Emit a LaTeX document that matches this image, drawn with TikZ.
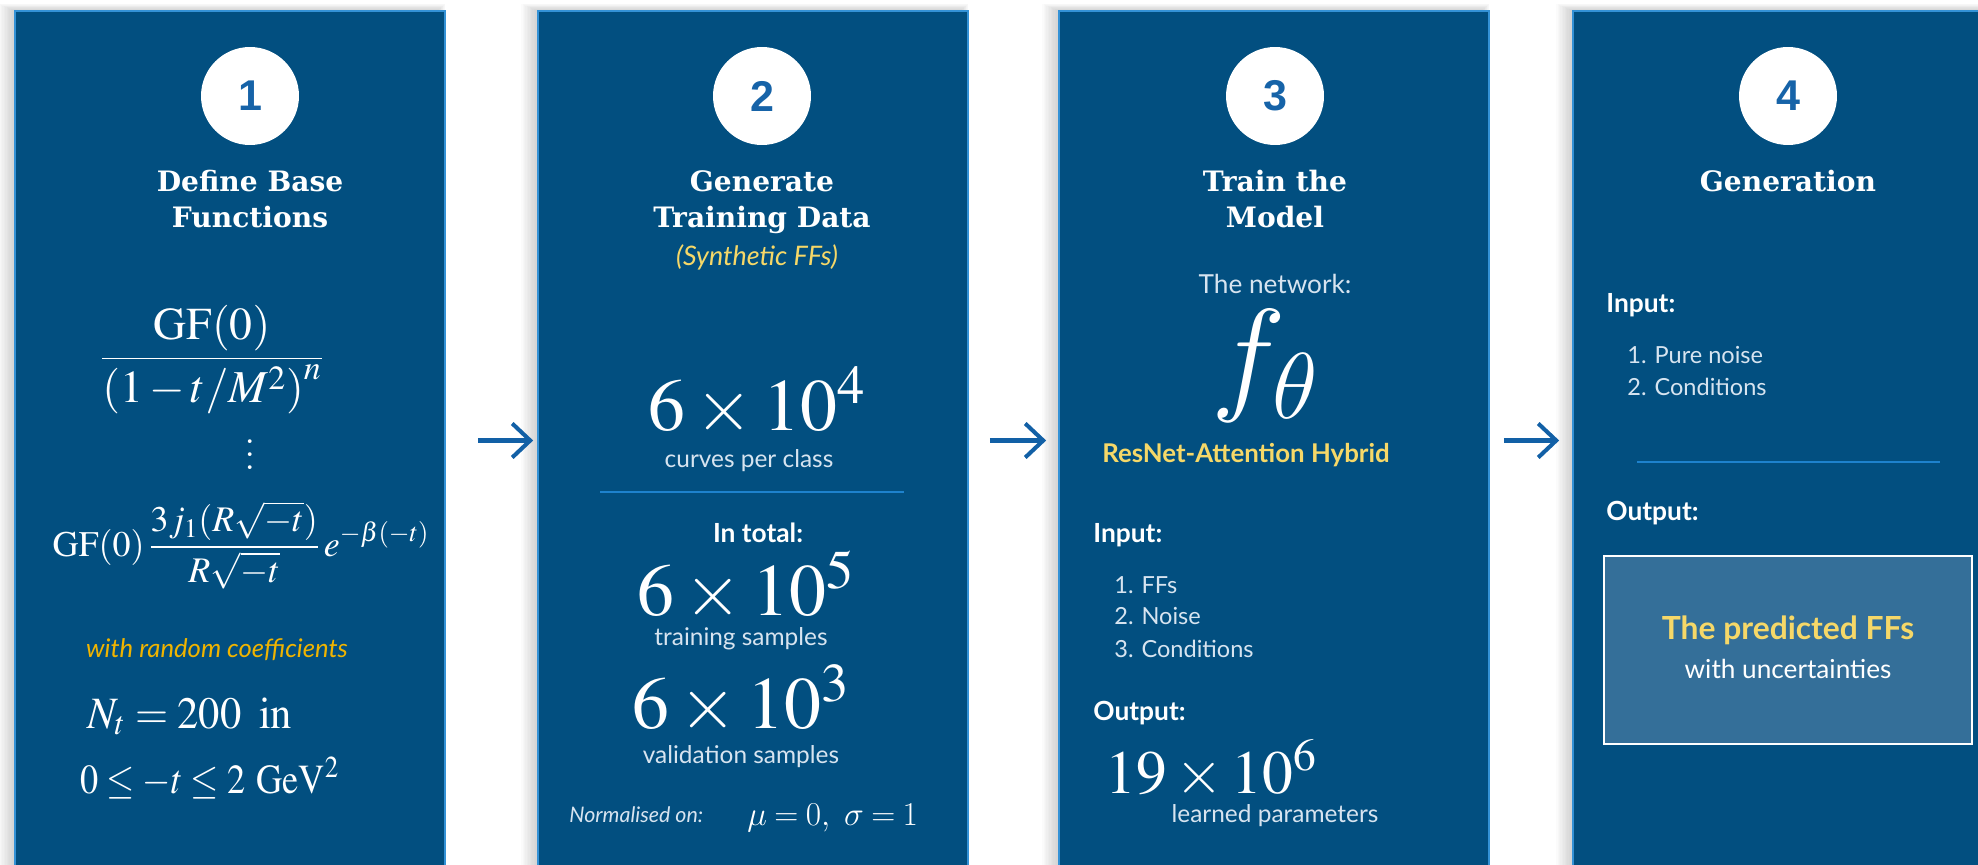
\documentclass[tikz,border=0pt]{standalone}
\usepackage{fix-cm}
\usepackage{mathptmx}
\usepackage[no-math]{fontspec}
\newfontfamily\lato{Lato}
\newfontfamily\serifhead{DejaVu Serif}
\newfontfamily\numsans{Liberation Sans}
\usetikzlibrary{arrows.meta}

% Computer Modern symbols for f_theta and the normalisation line
\DeclareSymbolFont{cmletters}{OML}{cmm}{m}{it}
\DeclareSymbolFont{cmroman}{OT1}{cmr}{m}{n}
\DeclareMathSymbol{\cmf}{\mathord}{cmletters}{`f}
\DeclareMathSymbol{\cmtheta}{\mathord}{cmletters}{"12}
\DeclareMathSymbol{\cmmu}{\mathord}{cmletters}{"16}
\DeclareMathSymbol{\cmsigma}{\mathord}{cmletters}{"1B}
\DeclareMathSymbol{\cmcomma}{\mathpunct}{cmletters}{"3B}
\DeclareMathSymbol{\cmeq}{\mathrel}{cmroman}{`=}
\DeclareMathSymbol{\cmzero}{\mathord}{cmroman}{`0}
\DeclareMathSymbol{\cmone}{\mathord}{cmroman}{`1}

\definecolor{panelblue}{RGB}{2,79,128}
\definecolor{paneledge}{RGB}{52,146,214}
\definecolor{numblue}{RGB}{22,99,168}
\definecolor{arrowblue}{RGB}{18,96,166}
\definecolor{rulecyan}{RGB}{30,130,205}
\definecolor{coefgold}{RGB}{240,180,0}
\definecolor{paleyellow}{RGB}{246,216,104}
\definecolor{softwhite}{RGB}{215,228,240}
\definecolor{boxblue}{RGB}{52,111,153}

\begin{document}
\begin{tikzpicture}[
  x=0.02cm,y=-0.02cm,
  panel/.style={draw=paneledge, fill=panelblue, line width=1pt, minimum width=8.6cm, minimum height=17.18cm, inner sep=0pt},
  numcirc/.style={circle, fill=white, minimum size=1.96cm, inner sep=0pt, text=numblue, font=\numsans\bfseries\fontsize{24.5}{24.5}\selectfont},
  steptitle/.style={anchor=base, inner sep=0pt, text=white, font=\serifhead\bfseries\fontsize{16}{16}\selectfont},
  note/.style={anchor=base, inner sep=0pt, text=softwhite, font=\lato\fontsize{13.9}{16}\selectfont},
  head/.style={anchor=base west, inner sep=0pt, text=white, font=\lato\bfseries\fontsize{15}{17}\selectfont},
  listitem/.style={anchor=base west, inner sep=0pt, text=softwhite, font=\lato\fontsize{13.4}{15}\selectfont},
  bignum/.style={anchor=base, inner sep=0pt, text=white, font=\fontsize{42}{42}\selectfont},
  formula/.style={anchor=base, inner sep=0pt, text=white},
  divider/.style={draw=rulecyan, line width=0.8pt},
  flowarrow/.style={draw=arrowblue, line width=2.3pt, -{Straight Barb[length=0.36cm, width=0.68cm]}}
]
\useasboundingbox (0,0) rectangle (1978,865);
\clip (0,0) rectangle (1978,865);

% Soft shadows on the left of the panels
\foreach \cx in {230,753,1274,1788}
  \foreach \k in {1,...,12}
    \fill[black, opacity=0.016] (\cx-215-1.4*\k,11-0.6*\k) rectangle (\cx+207+0.7*\k,880);

% Panels
\node[panel] (p1) at (230,440.5) {};
\node[panel] (p2) at (753,440.5) {};
\node[panel] (p3) at (1274,440.5) {};
\node[panel] (p4) at (1788,440.5) {};

% Flow arrows
\draw[flowarrow, shorten <=0.64cm, shorten >=0.08cm] (p1.east) -- (p2.west);
\draw[flowarrow, shorten <=0.42cm, shorten >=0.24cm] (p2.east) -- (p3.west);
\draw[flowarrow, shorten <=0.28cm, shorten >=0.26cm] (p3.east) -- (p4.west);

% Step numbers
\node[numcirc] (c1) at (250,96) {1};
\node[numcirc] (c2) at (762,96) {2};
\node[numcirc] (c3) at (1275,96) {3};
\node[numcirc] (c4) at (1788,96) {4};

% Step titles
\node[steptitle] (t1a) at (250,192) {Define Base};
\node[steptitle] (t1b) at (250,227) {Functions};
\node[steptitle] (t2a) at (762,192) {Generate};
\node[steptitle] (t2b) at (762,227) {Training Data};
\node[steptitle] (t3a) at (1275,192) {Train the};
\node[steptitle] (t3b) at (1275,227) {Model};
\node[steptitle] (t4a) at (1788,192) {Generation};

% Panel 1: base functions
\node[formula, font=\fontsize{26}{26}\selectfont] (f1a) at (212,370)
  {$\displaystyle\frac{\mathrm{GF}(0)}{\left(\rule[-0.3em]{0pt}{1.0em}1-t/M^2\right)^n}$};
\node[formula, anchor=center, align=center, font=\fontsize{26}{7.4}\selectfont] (f1dots) at (250,455) {.\\.\\.};
\node[formula, font=\fontsize{20.5}{20.5}\selectfont] (f1b) at (241,556)
  {$\displaystyle\mathrm{GF}(0)\,\frac{3j_1(R\sqrt{-t})}{R\sqrt{-t}}\,e^{-\beta(-t)}$};
\node[note, text=coefgold, font=\lato\itshape\fontsize{14.6}{16}\selectfont] (coef) at (217,657) {with random coefficients};
\node[formula, anchor=base west, font=\fontsize{25.5}{25.5}\selectfont] (nt) at (87,728)
  {\scalebox{0.95}[1]{$N_t = 200\ \,\mathrm{in}$}};
\node[formula, anchor=base west, font=\fontsize{23.5}{23.5}\selectfont] (trange) at (80,793)
  {\scalebox{0.88}[1]{$0 \le -t \le 2~\mathrm{GeV}^2$}};

% Panel 2: training data
\node[note, text=paleyellow, font=\lato\itshape\fontsize{15.3}{17}\selectfont] (synth) at (757,265) {(Synthetic FFs)};
\node[bignum] (n2a) at (757,430) {$6\times10^4$};
\node[note] (l2a) at (749,467) {curves per class};
\draw[divider] (600,492) -- (904,492);
\node[head, anchor=base] (h2) at (758,542) {In total:};
\node[bignum] (n2b) at (746,615) {$6\times10^5$};
\node[note] (l2b) at (741,645) {training samples};
\node[bignum] (n2c) at (741,728) {$6\times10^3$};
\node[note] (l2c) at (741,763) {validation samples};
\node[note, anchor=base west, font=\lato\itshape\fontsize{12.2}{14}\selectfont] (norm) at (569,822) {Normalised on:};
\node[formula, anchor=base west, font=\fontsize{19}{19}\selectfont] (musig) at (747,825)
  {$\cmmu \cmeq \cmzero\cmcomma\ \cmsigma \cmeq \cmone$};

% Panel 3: the model
\node[note, font=\lato\fontsize{14.9}{17}\selectfont] (net) at (1275,293) {The network:};
\node[formula, font=\fontsize{72}{72}\selectfont] (fth) at (1265,397) {$\cmf_{\cmtheta}$};
\node[note, text=paleyellow, font=\lato\bfseries\fontsize{14.7}{17}\selectfont] (arch) at (1246,462) {ResNet-Attention Hybrid};
\node[head] (in3) at (1093,542) {Input:};
\node[listitem] (i3a) at (1114,593) {1. FFs};
\node[listitem] (i3b) at (1114,624) {2. Noise};
\node[listitem] (i3c) at (1114,657) {3. Conditions};
\node[head] (out3) at (1093,720) {Output:};
\node[bignum, font=\fontsize{35}{35}\selectfont] (n3) at (1211,793) {$19\times10^6$};
\node[note] (l3) at (1275,822) {learned parameters};

% Panel 4: generation
\node[head] (in4) at (1606,312) {Input:};
\node[listitem] (i4a) at (1627,363) {1. Pure noise};
\node[listitem] (i4b) at (1627,395) {2. Conditions};
\draw[divider] (1637,462) -- (1940,462);
\node[head] (out4) at (1606,520) {Output:};
\node[draw=white, fill=boxblue, line width=1.2pt, minimum width=7.36cm, minimum height=3.76cm] (res) at (1788,650) {};
\node[note, text=paleyellow, font=\lato\bfseries\fontsize{18.1}{20}\selectfont] (pred) at (1788,639) {The predicted FFs};
\node[note, text=white, font=\lato\fontsize{14.9}{17}\selectfont] (unc) at (1788,678) {with uncertainties};

\end{tikzpicture}
\end{document}
